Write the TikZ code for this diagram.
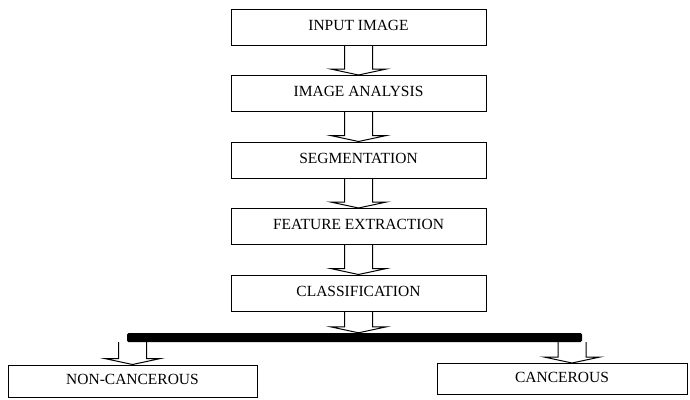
\documentclass[tikz,border=0pt]{standalone}
\usepackage{fontspec}
\setmainfont{Liberation Serif}
\usetikzlibrary{positioning}
\usetikzlibrary{calc}

% hollow block arrow from one anchor down to another
\newcommand{\hollowarrow}[2]{%
    \draw[arrowline] let \p1=(#1), \p2=(#2) in
        (\x1-14pt,\y1) -- (\x1-14pt,\y2+6pt) -- (\x1-28pt,\y2+6pt) -- (\x1,\y2)
        -- (\x1+28pt,\y2+6pt) -- (\x1+14pt,\y2+6pt) -- (\x1+14pt,\y1);%
}

\begin{document}
\begin{tikzpicture} [
            x=1pt, y=-1pt,
            node distance=29.5pt,
            % ----- Node definitions ----- %
            procbox/.style = {
                draw,
                rectangle,
                line width=1pt,
                minimum width=255pt,
                minimum height=36pt,
                inner sep=0pt,
                text depth=4pt,
                font=\fontsize{15.5}{18}\selectfont
            },
            barnode/.style = {
                fill=black,
                rectangle,
                rounded corners=1.5pt,
                minimum width=455pt,
                minimum height=9pt,
                inner sep=0pt
            },
            arrowline/.style = {
                line width=1pt,
                line join=miter
            },
    ]
        \useasboundingbox (0,0) rectangle (690,399);

        % ----- Node constructions ----- %
        \node [procbox] (input) at (358.5,27) {INPUT IMAGE};
        \node [procbox, below=of input] (analysis) {IMAGE ANALYSIS};
        \node [procbox, below=of analysis] (segment) {SEGMENTATION};
        \node [procbox, below=of segment] (feature) {FEATURE EXTRACTION};
        \node [procbox, below=of feature] (classify) {CLASSIFICATION};

        \node [barnode] (bar) at (354.5,337.5) {};

        \node [procbox, minimum width=249pt, minimum height=32pt] (noncancer) at (132.5,381) {NON-CANCEROUS};
        \node [procbox, minimum width=250pt, minimum height=31pt] (cancer) at (562,379) {CANCEROUS};

        % ----- Arrows ----- %
        \hollowarrow{input.south}{analysis.north}
        \hollowarrow{analysis.south}{segment.north}
        \hollowarrow{segment.south}{feature.north}
        \hollowarrow{feature.south}{classify.north}
        \hollowarrow{classify.south}{bar.north}

        \coordinate (lefttap) at (bar.south -| noncancer.north);
        \coordinate (righttap) at ([xshift=10pt]bar.south -| cancer.north);
        \hollowarrow{lefttap}{noncancer.north}
        \hollowarrow{righttap}{cancer.north}

\end{tikzpicture}
\end{document}
